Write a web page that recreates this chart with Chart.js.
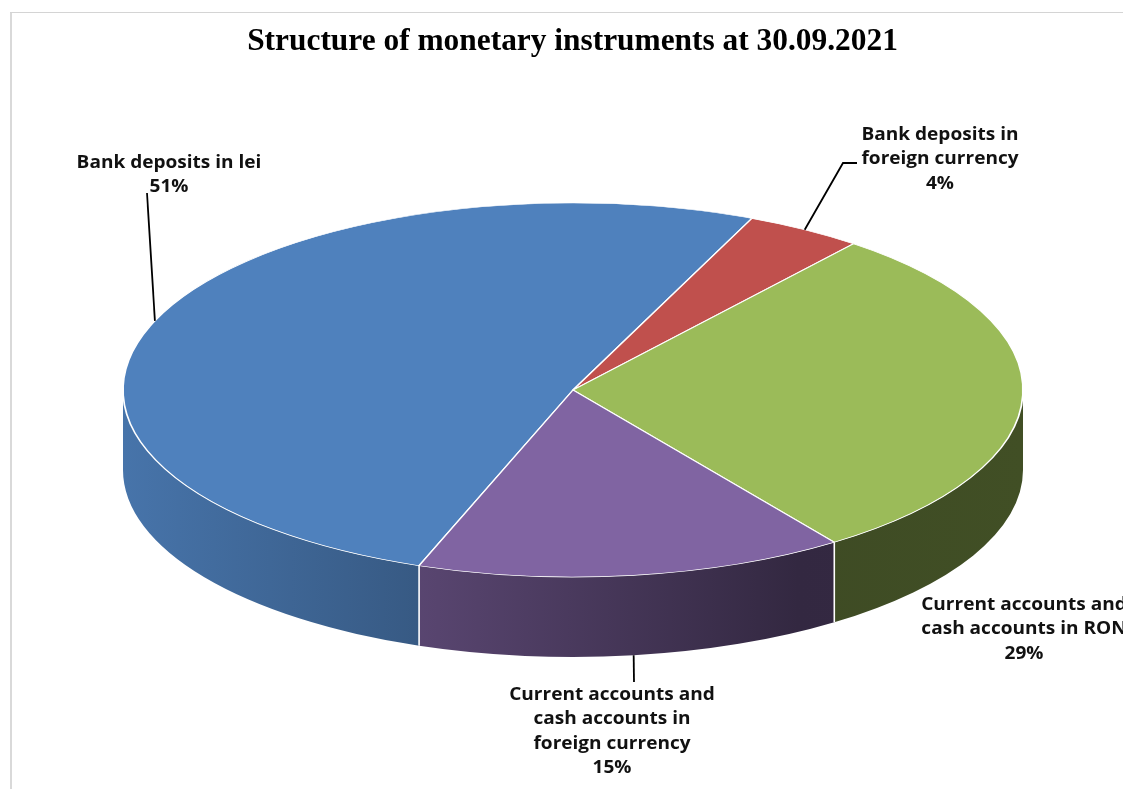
<!DOCTYPE html>
<html>
<head>
<meta charset="utf-8">
<script src="https://cdn.jsdelivr.net/npm/chart.js@4/dist/chart.umd.min.js"></script>
<style>
  html, body { margin: 0; padding: 0; background: #fff; }
  #wrap { width: 1123px; height: 789px; position: relative; }
</style>
</head>
<body>
<div id="wrap"><canvas id="structureChart"></canvas></div>
<script>
// data
const categories = [
  ["Bank deposits in lei"],
  ["Bank deposits in", "foreign currency"],
  ["Current accounts and", "cash accounts in RON"],
  ["Current accounts and", "cash accounts in", "foreign currency"],
];
const shares = [50.9, 4.2, 29.4, 15.4];
const sliceColors = ["#4F81BD", "#C0504D", "#9BBB59", "#8064A2"];

// where each label sits and where its leader line ends
const labelSpots = [
  { x: 169, y: 163, leader: [[147, 193]] },
  { x: 940, y: 135, leader: [[843, 163], [857, 163]] },
  { x: 1024, y: 605, leader: null },
  { x: 612, y: 695, leader: [[634, 682]] },
];

const TWO_PI = Math.PI * 2;

function shade(hex, f) {
  const n = parseInt(hex.slice(1), 16);
  const r = Math.round(((n >> 16) & 255) * f);
  const g = Math.round(((n >> 8) & 255) * f);
  const b = Math.round((n & 255) * f);
  return `rgb(${r}, ${g}, ${b})`;
}

// parts of a slice that face the viewer (lower half of the ellipse)
function frontSpans(start, end) {
  const s = ((start % TWO_PI) + TWO_PI) % TWO_PI;
  const e = s + (end - start);
  const spans = [];
  [[0, Math.PI], [TWO_PI, TWO_PI + Math.PI]].forEach(([lo, hi]) => {
    const a = Math.max(s, lo);
    const b = Math.min(e, hi);
    if (b > a) spans.push([a, b]);
  });
  return spans;
}

const framePlugin = {
  id: "frame",
  beforeDraw(chart) {
    const ctx = chart.ctx;
    ctx.save();
    ctx.fillStyle = "#d9d9d9";
    ctx.fillRect(10, 12, 2, chart.height);
    ctx.fillStyle = "#d4d4d4";
    ctx.fillRect(10, 12, chart.width, 1);
    ctx.restore();
  },
};

const pie3dPlugin = {
  id: "pie3d",
  beforeDatasetsDraw(chart, args, opts) {
    const ctx = chart.ctx;
    const arcs = chart.getDatasetMeta(0).data;
    if (!arcs.length) return;
    const { cx, cy, rx, ry, depth, shades } = opts;

    ctx.save();
    arcs.forEach((arc, i) => {
      frontSpans(arc.startAngle, arc.endAngle).forEach(([a, b]) => {
        const grad = ctx.createLinearGradient(cx - rx, 0, cx + rx, 0);
        shades.forEach(([p, f]) => grad.addColorStop(p, shade(sliceColors[i], f)));
        ctx.beginPath();
        ctx.ellipse(cx, cy, rx, ry, 0, a, b, false);
        ctx.ellipse(cx, cy + depth, rx, ry, 0, b, a, true);
        ctx.closePath();
        ctx.fillStyle = grad;
        ctx.fill();
      });
    });
    // white seams where slices meet on the side wall
    ctx.strokeStyle = "#fff";
    ctx.lineWidth = 1.6;
    arcs.forEach((arc) => {
      const t = ((arc.startAngle % TWO_PI) + TWO_PI) % TWO_PI;
      if (t > 0.02 && t < Math.PI - 0.02) {
        const x = cx + rx * Math.cos(t);
        const y = cy + ry * Math.sin(t);
        ctx.beginPath();
        ctx.moveTo(x, y);
        ctx.lineTo(x, y + depth);
        ctx.stroke();
      }
    });
    ctx.restore();

    // tilt the flat pie the library draws into the top face
    const a0 = arcs[0];
    ctx.save();
    ctx.translate(cx, cy);
    ctx.scale(rx / a0.outerRadius, ry / a0.outerRadius);
    ctx.translate(-a0.x, -a0.y);
  },
  afterDatasetsDraw(chart) {
    if (chart.getDatasetMeta(0).data.length) chart.ctx.restore();
  },
};

const sliceLabelPlugin = {
  id: "sliceLabels",
  afterDraw(chart, args, opts) {
    const ctx = chart.ctx;
    const arcs = chart.getDatasetMeta(0).data;
    const { cx, cy, rx, ry, depth } = chart.options.plugins.pie3d;
    const total = shares.reduce((a, b) => a + b, 0);

    ctx.save();
    ctx.strokeStyle = "#000";
    ctx.lineWidth = 1.8;
    ctx.fillStyle = "#111";
    ctx.font = opts.font;
    ctx.textAlign = "center";
    ctx.textBaseline = "middle";
    arcs.forEach((arc, i) => {
      const spot = labelSpots[i];
      if (spot.leader) {
        const mid = (arc.startAngle + arc.endAngle) / 2;
        const x = cx + rx * Math.cos(mid);
        let y = cy + ry * Math.sin(mid);
        if (Math.sin(mid) > 0) y += depth;
        ctx.beginPath();
        ctx.moveTo(x, y);
        spot.leader.forEach(([px, py]) => ctx.lineTo(px, py));
        ctx.stroke();
      }
      const pct = Math.round((shares[i] / total) * 100) + "%";
      const lines = [...categories[i], pct];
      lines.forEach((t, k) => {
        ctx.save();
        ctx.translate(spot.x, spot.y + k * opts.lineHeight);
        ctx.scale(opts.stretch, 1);
        ctx.fillText(t, 0, 0);
        ctx.restore();
      });
    });
    ctx.restore();
  },
};

new Chart(document.getElementById("structureChart").getContext("2d"), {
  type: "pie",
  data: {
    labels: categories.map((c) => c.join(" ")),
    datasets: [
      {
        data: shares,
        backgroundColor: sliceColors,
        borderColor: "#fff",
        borderWidth: 1.4,
        clip: false,
      },
    ],
  },
  options: {
    responsive: true,
    maintainAspectRatio: false,
    animation: false,
    events: [],
    rotation: 200,
    layout: { padding: { left: 22 } },
    plugins: {
      legend: { display: false },
      tooltip: { enabled: false },
      title: {
        display: true,
        text: "Structure of monetary instruments at 30.09.2021",
        color: "#000",
        font: { family: "'Liberation Serif', 'Times New Roman', serif", size: 31.4, weight: "bold" },
        padding: { top: 23, bottom: 10 },
      },
      pie3d: {
        cx: 573,
        cy: 390,
        rx: 450,
        ry: 187,
        depth: 80,
        shades: [[0, 0.9], [0.35, 0.68], [0.75, 0.4], [1, 0.42]],
      },
      sliceLabels: {
        font: "bold 17px 'Open Sans', sans-serif",
        lineHeight: 24.5,
        stretch: 1.12,
      },
    },
  },
  plugins: [framePlugin, pie3dPlugin, sliceLabelPlugin],
});
</script>
</body>
</html>
